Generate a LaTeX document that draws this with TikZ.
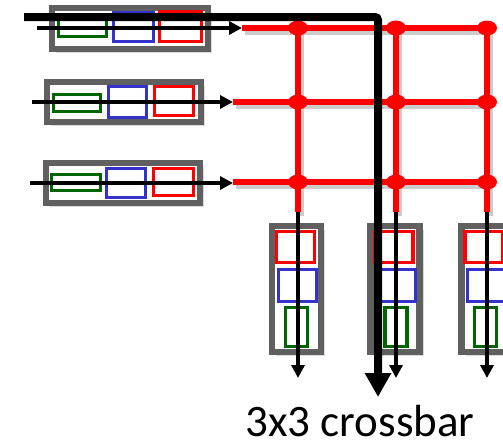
\documentclass[tikz,border=0pt]{standalone}
\usepackage{fontspec}
\setmainfont{Carlito}
\usetikzlibrary{arrows.meta,shapes.geometric,shadows}
\definecolor{boxgray}{RGB}{96,96,96}
\definecolor{qgreen}{RGB}{0,100,0}
\definecolor{qblue}{RGB}{51,51,204}
\definecolor{qred}{RGB}{255,0,0}
\tikzset{
  port/.style={draw=boxgray, line width=6.5pt, fill=white, inner sep=0pt, outer sep=0pt,
    drop shadow={shadow xshift=4pt, shadow yshift=-4pt, opacity=0.3}},
  pkt/.style={line width=3.5pt, inner sep=0pt, outer sep=0pt, fill=white},
  gpkt/.style={pkt, draw=qgreen},
  bpkt/.style={pkt, draw=qblue},
  rpkt/.style={pkt, draw=qred},
  wire/.style={draw=qred, line width=6pt,
    preaction={draw=black, draw opacity=0.2, line width=6.5pt, transform canvas={shift={(3pt,-4pt)}}}},
  junc/.style={ellipse, fill=qred, minimum width=20pt, minimum height=15pt, inner sep=0pt},
  flow/.style={draw=black, line width=3.5pt, -{Triangle[length=13pt,width=13pt]}},
  bigflow/.style={draw=black, line width=8pt, rounded corners=3pt, -{Triangle[length=24pt,width=25pt]}},
  caption/.style={font=\fontsize{45}{50}\selectfont, anchor=base, inner sep=0pt}
}
\begin{document}
\begin{tikzpicture}[x=1pt,y=-1pt]
\useasboundingbox (0,0) rectangle (503,447);

% input ports
\node[port, minimum width=156pt, minimum height=41pt] (in1) at (130,28.5) {};
\node[gpkt, minimum width=48pt, minimum height=22pt] (in1g) at (82.5,25.5) {};
\node[bpkt, minimum width=40pt, minimum height=29pt] (in1b) at (133.5,27) {};
\node[rpkt, minimum width=42pt, minimum height=30pt] (in1r) at (180.5,26.5) {};

\node[port, minimum width=154pt, minimum height=40pt] (in2) at (124,102) {};
\node[gpkt, minimum width=47pt, minimum height=17pt] (in2g) at (77,103) {};
\node[bpkt, minimum width=38pt, minimum height=31pt] (in2b) at (127.5,102) {};
\node[rpkt, minimum width=39pt, minimum height=29pt] (in2r) at (174,101) {};

\node[port, minimum width=154pt, minimum height=40pt] (in3) at (123,183) {};
\node[gpkt, minimum width=49pt, minimum height=16pt] (in3g) at (76,182.5) {};
\node[bpkt, minimum width=39pt, minimum height=29pt] (in3b) at (126,183) {};
\node[rpkt, minimum width=40pt, minimum height=27pt] (in3r) at (173.5,182) {};

% output ports
\foreach \n/\x/\rx/\bx/\gx in {A/296.5/295.5/297.5/296.5, B/395/394/396.5/396, C/486/484/486.5/485.5}{
  \node[port, minimum width=49pt, minimum height=126pt] (out\n) at (\x,289) {};
  \node[rpkt, minimum width=38pt, minimum height=31pt] (out\n r) at (\rx,247) {};
  \node[bpkt, minimum width=38pt, minimum height=32pt] (out\n b) at (\bx,285.5) {};
  \node[gpkt, minimum width=22pt, minimum height=39pt] (out\n g) at (\gx,327) {};
}

% crossbar grid
\coordinate (r1s) at (242,28);
\coordinate (r2s) at (233,102);
\coordinate (r3s) at (233,182);
\foreach \c/\x in {1/298,2/396,3/487}{
  \foreach \r/\y in {1/28,2/102,3/182}{
    \coordinate (j\r\c) at (\x,\y);
  }
  \coordinate (b\c) at (\x,212);
  \coordinate (t\c) at (\x,378);
}
\foreach \r in {1,2,3}{ \path[wire] (r\r s) -- (j\r3); }
\foreach \c in {1,2,3}{ \path[wire] (j1\c) -- (b\c); }
\foreach \r in {1,2,3}{
  \foreach \c in {1,2,3}{
    \node[junc] (d\r\c) at (j\r\c) {};
  }
}

% input flows
\coordinate (a1) at (37,28);
\coordinate (a2) at (32,102);
\coordinate (a3) at (30,183);
\path[flow] (a1) -- (r1s);
\path[flow] (a2) -- (r2s);
\path[flow] (a3) -- (r3s |- a3);

% output flows
\foreach \c in {1,2,3}{ \path[flow] (b\c) -- (t\c); }

% path through crossbar
\coordinate (p0) at (24,17);
\coordinate (p1) at (378,17);
\coordinate (p2) at (378,397);
\path[bigflow] (p0) -- (p1) -- (p2);

\node[caption] (cap) at (360,436) {3x3 crossbar};
\end{tikzpicture}
\end{document}
